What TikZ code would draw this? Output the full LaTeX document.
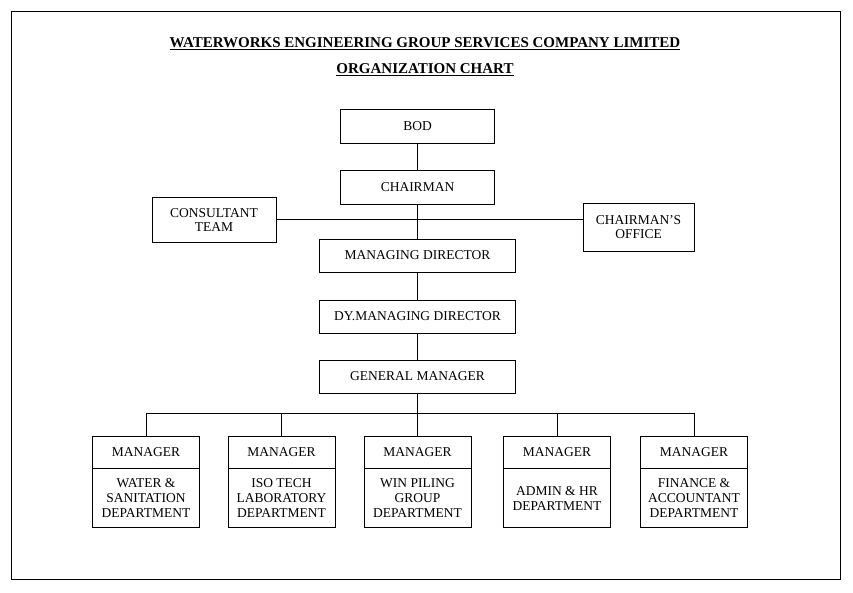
\documentclass[tikz,border=0pt]{standalone}
\usepackage{fontspec}
\setmainfont{Liberation Serif}
\begin{document}
\begin{tikzpicture}[x=1pt,y=-1pt,line width=0.8pt,
  bx/.style={draw,align=center,inner sep=0pt,font=\fontsize{13.5}{14.5}\selectfont},
  ttl/.style={font=\bfseries\fontsize{15}{16}\selectfont}]
\useasboundingbox (0,0) rectangle (853,592);
\draw (11,11) rectangle (840,579);
\node[ttl] (t1) at (425,44) {\underline{WATERWORKS ENGINEERING GROUP SERVICES COMPANY LIMITED}};
\node[ttl] (t2) at (425,70) {\underline{ORGANIZATION CHART}};
\node[bx,minimum width=154,minimum height=34] (bod) at (417.5,126) {BOD};
\node[bx,minimum width=154,minimum height=34] (ch) at (417.5,187) {CHAIRMAN};
\node[bx,minimum width=124,minimum height=45] (ct) at (214,220) {CONSULTANT\\TEAM};
\node[bx,minimum width=111,minimum height=48] (co) at (638.5,227) {CHAIRMAN'S\\OFFICE};
\node[bx,minimum width=196,minimum height=33] (md) at (417.5,255.5) {MANAGING DIRECTOR};
\node[bx,minimum width=196,minimum height=33] (dmd) at (417.5,316.5) {DY.MANAGING DIRECTOR};
\node[bx,minimum width=196,minimum height=33] (gm) at (417.5,376.5) {GENERAL MANAGER};
\draw (bod) -- (ch);
\draw (ch) -- (md);
\draw (ct.east |- 0,219) -- (co.west |- 0,219);
\draw (md) -- (dmd);
\draw (dmd) -- (gm);
\coordinate (busL) at (146,413);
\coordinate (busR) at (694,413);
\draw (busL) -- (busR);
\draw (gm.south) -- (417.5,413);
\foreach \n/\c/\t in {m1/146/{WATER \&\\SANITATION\\DEPARTMENT},m2/281.5/{ISO TECH\\LABORATORY\\DEPARTMENT},m3/417.5/{WIN PILING\\GROUP\\DEPARTMENT},m4/557/{ADMIN \& HR\\DEPARTMENT},m5/694/{FINANCE \&\\ACCOUNTANT\\DEPARTMENT}}{
  \node[draw,minimum width=107,minimum height=32,inner sep=0pt,font=\fontsize{13.5}{14.5}\selectfont] (\n h) at (\c,452) {MANAGER};
  \node[draw,minimum width=107,minimum height=59,inner sep=0pt,align=center,font=\fontsize{13.5}{15}\selectfont,anchor=north] (\n b) at (\n h.south) {\t};
  \draw (\n h.north) -- (\c,413);
}
\end{tikzpicture}
\end{document}
